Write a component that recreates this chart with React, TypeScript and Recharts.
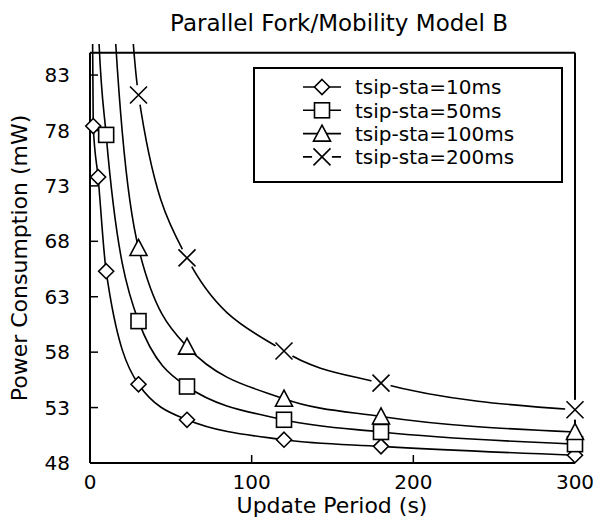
import React from 'react'
import { LineChart, Line, XAxis, YAxis, ReferenceLine, Legend } from 'recharts'

// update period (s)
const periods = [1, 2, 5, 10, 30, 60, 120, 180, 300]
// power consumption (mW); values above the frame only shape the curve
const sta10 = [98, 78.4, 73.8, 65.3, 55.1, 51.9, 50.1, 49.5, 48.7]
const sta50 = [130, 108, 88, 77.6, 60.8, 54.9, 51.9, 50.8, 49.7]
const sta100 = [null, null, 140, 103, 67.4, 58.5, 53.8, 52.2, 50.8]
const sta200 = [null, null, null, 140, 81.2, 66.5, 58.1, 55.2, 52.8]

const seriesNames = ['tsip-sta=10ms', 'tsip-sta=50ms', 'tsip-sta=100ms', 'tsip-sta=200ms']
const seriesKeys = ['s10', 's50', 's100', 's200']
const seriesShapes = ['diamond', 'square', 'triangle', 'cross']
const xTicks = [0, 100, 200, 300]
const yTicks = [48, 53, 58, 63, 68, 73, 78, 83]

const FRAME_TOP = 85
const VIEW_TOP = 85.8
const FONT = '"DejaVu Sans", sans-serif'

const allSeries = [sta10, sta50, sta100, sta200]

const data = periods.map((p, i) => {
	const row: Record<string, number | null> = { period: p }
	allSeries.forEach((s, j) => {
		const v = s[i]
		row[seriesKeys[j]] = v
		row['m_' + seriesKeys[j]] = v != null && v <= FRAME_TOP ? v : null
	})
	return row
})

const Marker = ({ shape, cx, cy }: { shape: string; cx: number; cy: number }) => {
	const st = { fill: '#fff', stroke: '#000', strokeWidth: 1.6 }
	if (shape === 'diamond') {
		return <polygon points={`${cx},${cy - 7.5} ${cx + 7.5},${cy} ${cx},${cy + 7.5} ${cx - 7.5},${cy}`} {...st} />
	}
	if (shape === 'square') {
		return <rect x={cx - 7.5} y={cy - 7.5} width={15} height={15} {...st} />
	}
	if (shape === 'triangle') {
		return <polygon points={`${cx},${cy - 8.5} ${cx + 8.5},${cy + 7.5} ${cx - 8.5},${cy + 7.5}`} {...st} />
	}
	return (
		<g>
			<circle cx={cx} cy={cy} r={10} fill='#fff' />
			<path d={`M${cx - 8.5},${cy - 8.5}L${cx + 8.5},${cy + 8.5}M${cx - 8.5},${cy + 8.5}L${cx + 8.5},${cy - 8.5}`} stroke='#000' strokeWidth={1.6} />
		</g>
	)
}

const makeDot = (shape: string) => (props: any) => {
	const { cx, cy, index, dataKey } = props
	const k = `${dataKey}-${index}`
	if (cx == null || cy == null || props.value == null) return <g key={k} />
	return (
		<g key={k}>
			<Marker shape={shape} cx={cx} cy={cy} />
		</g>
	)
}

const LegendBox = (props: any) => {
	const payload: any[] = props.payload || []
	const entries = seriesKeys
		.map((k) => payload.find((e) => e.dataKey === 'm_' + k))
		.filter(Boolean)
	return (
		<svg width={310} height={116} style={{ display: 'block' }}>
			<rect x={1} y={1} width={308} height={114} fill='#fff' stroke='#000' strokeWidth={2} />
			{entries.map((e: any, i: number) => {
				const j = seriesKeys.indexOf(String(e.dataKey).replace('m_', ''))
				const y = 20 + i * 23.3
				return (
					<g key={i}>
						<line x1={50} x2={88} y1={y} y2={y} stroke='#000' strokeWidth={1.6} />
						<Marker shape={seriesShapes[j]} cx={69} cy={y} />
						<text x={102} y={y + 7.3} fontSize={20} fontFamily={FONT} fill='#000'>
							{seriesNames[j]}
						</text>
					</g>
				)
			})}
		</svg>
	)
}

export default function App() {
	return (
		<div style={{ position: 'absolute', left: 0, top: 0, fontFamily: FONT }}>
			<LineChart width={601} height={524} data={data} margin={{ top: 44, right: 26, bottom: 0, left: 0 }}>
				<text x={339} y={31} textAnchor='middle' fontSize={23} fontFamily={FONT} fill='#000'>
					Parallel Fork/Mobility Model B
				</text>
				<text x={27} y={258} textAnchor='middle' fontSize={22} fontFamily={FONT} fill='#000' transform='rotate(-90 27 258)'>
					Power Consumption (mW)
				</text>
				<text x={332} y={513} textAnchor='middle' fontSize={22} fontFamily={FONT} fill='#000'>
					Update Period (s)
				</text>
				<XAxis
					dataKey='period'
					type='number'
					domain={[0, 300]}
					ticks={xTicks}
					interval={0}
					height={61}
					tickSize={-8}
					tickMargin={20}
					axisLine={{ stroke: '#000', strokeWidth: 2 }}
					tickLine={{ stroke: '#000', strokeWidth: 1.5 }}
					tick={{ fill: '#000', fontSize: 20, fontFamily: FONT }}
				/>
				<YAxis
					yAxisId='l'
					type='number'
					domain={[48, VIEW_TOP]}
					allowDataOverflow
					ticks={yTicks}
					interval={0}
					width={90}
					tickSize={-8}
					tickMargin={28}
					axisLine={false}
					tickLine={{ stroke: '#000', strokeWidth: 1.5 }}
					tick={{ fill: '#000', fontSize: 20, fontFamily: FONT }}
				/>
				<YAxis yAxisId='m' type='number' domain={[48, VIEW_TOP]} hide />
				<ReferenceLine yAxisId='l' ifOverflow='visible' segment={[{ x: 0, y: 48 }, { x: 0, y: FRAME_TOP }]} stroke='#000' strokeWidth={2} />
				<ReferenceLine yAxisId='l' ifOverflow='visible' segment={[{ x: 0, y: FRAME_TOP }, { x: 300, y: FRAME_TOP }]} stroke='#000' strokeWidth={2} />
				<ReferenceLine yAxisId='l' ifOverflow='visible' segment={[{ x: 300, y: 48 }, { x: 300, y: FRAME_TOP }]} stroke='#000' strokeWidth={2} />
				{seriesKeys.map((k) => (
					<Line
						key={k}
						yAxisId='l'
						type='monotoneX'
						dataKey={k}
						stroke='#000'
						strokeWidth={1.6}
						dot={false}
						activeDot={false}
						legendType='none'
						isAnimationActive={false}
					/>
				))}
				{seriesKeys.map((k, j) => (
					<Line
						key={'m_' + k}
						yAxisId='m'
						dataKey={'m_' + k}
						name={seriesNames[j]}
						stroke='none'
						dot={makeDot(seriesShapes[j])}
						activeDot={false}
						isAnimationActive={false}
					/>
				))}
				<Legend
					layout='vertical'
					align='center'
					verticalAlign='middle'
					content={<LegendBox />}
					wrapperStyle={{ left: 253, top: 67, width: 310, height: 116 }}
				/>
			</LineChart>
		</div>
	)
}
